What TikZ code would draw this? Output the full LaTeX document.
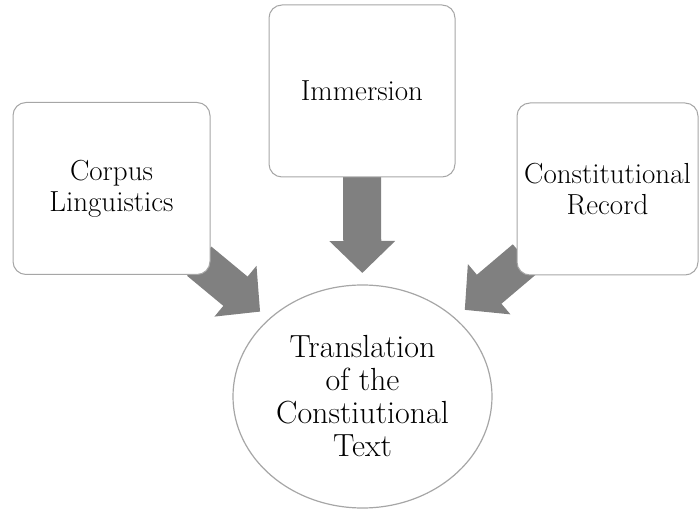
\documentclass[tikz,border=0pt]{standalone}
\usepackage{tikz}
\usetikzlibrary{shapes.geometric, arrows.meta, backgrounds}
\tikzstyle{srcbox} = [draw=gray!70, line width=1pt, fill=white, rounded corners=13pt, align=center, inner sep=0pt, minimum height=172pt, font=\fontsize{29}{31}\selectfont]
\tikzstyle{goal} = [ellipse, draw=gray!70, line width=1.2pt, fill=white, align=center, inner sep=0pt, minimum width=259pt, minimum height=223pt, font=\fontsize{32}{33}\selectfont]
\tikzstyle{fatarrow} = [line width=38pt, color=gray, -{Triangle[width=64pt,length=32pt]}]

\begin{document}
\begin{tikzpicture}[x=1pt,y=-1pt]
    \useasboundingbox (0,0) rectangle (699,510);
    \node[srcbox, minimum width=197pt] (corpus) at (111.5,188.5) {Corpus\\Linguistics};
    \node[srcbox, minimum width=186pt] (immersion) at (362,91) {Immersion};
    \node[srcbox, minimum width=181pt] (record) at (607.5,189) {Constitutional\\Record};
    \node[goal] (trans) at (362.5,396.5) {Translation\\of the\\Constiutional\\Text};
    \begin{scope}[on background layer]
        \draw[fatarrow, shorten <=114pt, shorten >=133pt] (corpus.center) -- (trans.center);
        \draw[fatarrow, shorten <=86pt, shorten >=123.5pt] (immersion.center) -- (trans.center);
        \draw[fatarrow, shorten <=108pt, shorten >=134pt] (record.center) -- (trans.center);
    \end{scope}
\end{tikzpicture}
\end{document}
